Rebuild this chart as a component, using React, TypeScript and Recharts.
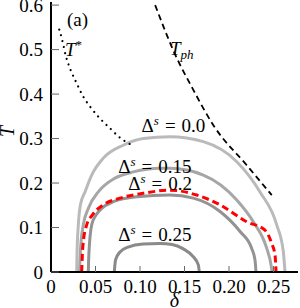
import React from "react";
import {
  LineChart,
  Line,
  XAxis,
  YAxis,
  ReferenceDot,
} from "recharts";

// tick values and their labels
const deltaTicks = [0, 0.05, 0.1, 0.15, 0.2, 0.25];
const deltaTickLabels = ["0", "0.05", "0.10", "0.15", "0.20", "0.25"];
const tTicks = [0, 0.1, 0.2, 0.3, 0.4, 0.5, 0.6];
const tTickLabels = ["0", "0.1", "0.2", "0.3", "0.4", "0.5", "0.6"];

// [delta, T]
const domeGap00: [number, number][] = [
  [0.0289, 0], [0.0292, 0.038], [0.0307, 0.106], [0.0331, 0.151],
  [0.0382, 0.18], [0.0457, 0.218], [0.0588, 0.256], [0.0812, 0.285],
  [0.1037, 0.3], [0.1337, 0.304], [0.1711, 0.293], [0.2087, 0.248],
  [0.2348, 0.18], [0.2536, 0.106], [0.261, 0.046], [0.2629, 0],
];
const domeGap015: [number, number][] = [
  [0.032, 0], [0.0331, 0.049], [0.0363, 0.106], [0.0419, 0.143],
  [0.0531, 0.18], [0.0719, 0.211], [0.0925, 0.225], [0.1225, 0.233],
  [0.1337, 0.233], [0.1711, 0.218], [0.2087, 0.162], [0.2273, 0.113],
  [0.2424, 0.053], [0.2472, 0.016], [0.2483, 0],
];
const domeRed: [number, number][] = [
  [0.0345, 0], [0.0352, 0.038], [0.0363, 0.068], [0.0401, 0.106],
  [0.0464, 0.128], [0.0588, 0.151], [0.0775, 0.166], [0.1037, 0.177],
  [0.1337, 0.184], [0.1637, 0.173], [0.1899, 0.151], [0.2199, 0.113],
  [0.2404, 0.094], [0.248, 0.064], [0.2517, 0.038], [0.2528, 0],
];
const domeGap02: [number, number][] = [
  [0.0419, 0], [0.0425, 0.038], [0.0457, 0.106], [0.0506, 0.128],
  [0.057, 0.143], [0.07, 0.158], [0.0963, 0.169], [0.1337, 0.173],
  [0.1599, 0.166], [0.1899, 0.136], [0.2124, 0.091], [0.2255, 0.053],
  [0.2292, 0.027], [0.2303, 0],
];
const domeGap025: [number, number][] = [
  [0.0711, 0], [0.0725, 0.027], [0.0775, 0.045], [0.0865, 0.056],
  [0.1034, 0.063], [0.1225, 0.064], [0.136, 0.062], [0.1487, 0.052],
  [0.16, 0.034], [0.1655, 0.016], [0.1666, 0],
];
const tStar: [number, number][] = [
  [0.0093, 0.545], [0.0124, 0.523], [0.0169, 0.484], [0.0221, 0.454],
  [0.0289, 0.424], [0.0363, 0.394], [0.0446, 0.37], [0.0551, 0.345],
  [0.0663, 0.323], [0.0775, 0.302], [0.0918, 0.284],
];
const tPh: [number, number][] = [
  [0.117, 0.6], [0.139, 0.491], [0.16, 0.409], [0.1824, 0.33],
  [0.2199, 0.24], [0.248, 0.173],
];

const toRows = (pts: [number, number][]) => pts.map(([d, t]) => ({ d, t }));

const serif = "Liberation Serif, serif";

const TextMark = ({ cx, cy, children }: any) => (
  <text x={cx} y={cy} style={{ fontFamily: serif, fontSize: 19 }} fill="#000">
    {children}
  </text>
);

const GapLabel = (value: string) => (p: any) => (
  <TextMark cx={p.cx} cy={p.cy}>
    <tspan>Δ</tspan>
    <tspan fontStyle="italic" fontSize={13} dy={-7}>s</tspan>
    <tspan dy={7} dx={6}>=</tspan>
    <tspan dx={6}>{value}</tspan>
  </TextMark>
);

export default function App() {
  return (
    <div style={{ position: "absolute", left: 0, top: 0 }}>
      <LineChart
        width={300}
        height={308}
        margin={{ top: 2, right: 2, left: 0, bottom: 0 }}
      >
        <XAxis
          type="number"
          dataKey="d"
          domain={[0, 0.2775]}
          ticks={deltaTicks}
          tickFormatter={(v: number) => deltaTickLabels[deltaTicks.indexOf(v)] ?? ""}
          height={36}
          tickSize={-6}
          tickMargin={14}
          axisLine={{ stroke: "#000", strokeWidth: 2 }}
          tickLine={{ stroke: "#666", strokeWidth: 1 }}
          tick={{ fontFamily: serif, fontSize: 19, fill: "#000" }}
          interval={0}
          allowDataOverflow
          label={{
            value: "δ",
            position: "insideBottom",
            offset: 1,
            style: { fontFamily: serif, fontSize: 20, fontStyle: "italic", fill: "#000" },
          }}
        />
        <XAxis
          xAxisId="top"
          orientation="top"
          type="number"
          domain={[0, 0.2775]}
          height={0}
          tick={false}
          tickLine={false}
          axisLine={{ stroke: "#000", strokeWidth: 1 }}
        />
        <YAxis
          type="number"
          domain={[0, 0.607]}
          ticks={tTicks}
          tickFormatter={(v: number) => tTickLabels[tTicks.indexOf(v)] ?? ""}
          width={51}
          tickSize={-8}
          tickMargin={16}
          axisLine={{ stroke: "#000", strokeWidth: 2 }}
          tickLine={{ stroke: "#666", strokeWidth: 1 }}
          tick={{ fontFamily: serif, fontSize: 19, fill: "#000" }}
          interval={0}
          allowDataOverflow
          label={{
            value: "T",
            angle: -90,
            position: "insideLeft",
            offset: 7,
            style: { fontFamily: serif, fontSize: 20, fontStyle: "italic", fill: "#000" },
          }}
        />
        <YAxis
          yAxisId="right"
          orientation="right"
          type="number"
          domain={[0, 0.607]}
          width={0}
          tick={false}
          tickLine={false}
          axisLine={{ stroke: "#000", strokeWidth: 1 }}
        />

        <Line data={toRows(domeGap00)} dataKey="t" type="monotone" stroke="#bababa" strokeWidth={3} dot={false} activeDot={false} isAnimationActive={false} />
        <Line data={toRows(domeGap015)} dataKey="t" type="monotone" stroke="#a6a6a6" strokeWidth={3} dot={false} activeDot={false} isAnimationActive={false} />
        <Line data={toRows(domeGap02)} dataKey="t" type="monotone" stroke="#939393" strokeWidth={3} dot={false} activeDot={false} isAnimationActive={false} />
        <Line data={toRows(domeGap025)} dataKey="t" type="monotone" stroke="#8a8a8a" strokeWidth={3} dot={false} activeDot={false} isAnimationActive={false} />
        <Line data={toRows(domeRed)} dataKey="t" type="monotone" stroke="#ff0000" strokeWidth={3} strokeDasharray="7 4" dot={false} activeDot={false} isAnimationActive={false} />
        <Line data={toRows(tStar)} dataKey="t" type="monotone" stroke="#000" strokeWidth={2.2} strokeLinecap="round" strokeDasharray="0.01 6" dot={false} activeDot={false} isAnimationActive={false} />
        <Line data={toRows(tPh)} dataKey="t" type="monotone" stroke="#000" strokeWidth={1.8} strokeDasharray="6 4" dot={false} activeDot={false} isAnimationActive={false} />

        <ReferenceDot x={0.018} y={0.553} r={0} shape={(p: any) => <TextMark cx={p.cx} cy={p.cy}>(a)</TextMark>} />
        <ReferenceDot
          x={0.0157}
          y={0.4845}
          r={0}
          shape={(p: any) => (
            <TextMark cx={p.cx} cy={p.cy}>
              <tspan fontStyle="italic">T</tspan>
              <tspan fontSize={13} dy={-7}>*</tspan>
            </TextMark>
          )}
        />
        <ReferenceDot
          x={0.1336}
          y={0.488}
          r={0}
          shape={(p: any) => (
            <TextMark cx={p.cx} cy={p.cy}>
              <tspan fontStyle="italic">T</tspan>
              <tspan fontStyle="italic" fontSize={13} dy={4}>ph</tspan>
            </TextMark>
          )}
        />
        <ReferenceDot x={0.1018} y={0.3154} r={0} shape={GapLabel("0.0")} />
        <ReferenceDot x={0.0755} y={0.2226} r={0} shape={GapLabel("0.15")} />
        <ReferenceDot x={0.0868} y={0.1844} r={0} shape={GapLabel("0.2")} />
        <ReferenceDot x={0.0755} y={0.0697} r={0} shape={GapLabel("0.25")} />
      </LineChart>
    </div>
  );
}
